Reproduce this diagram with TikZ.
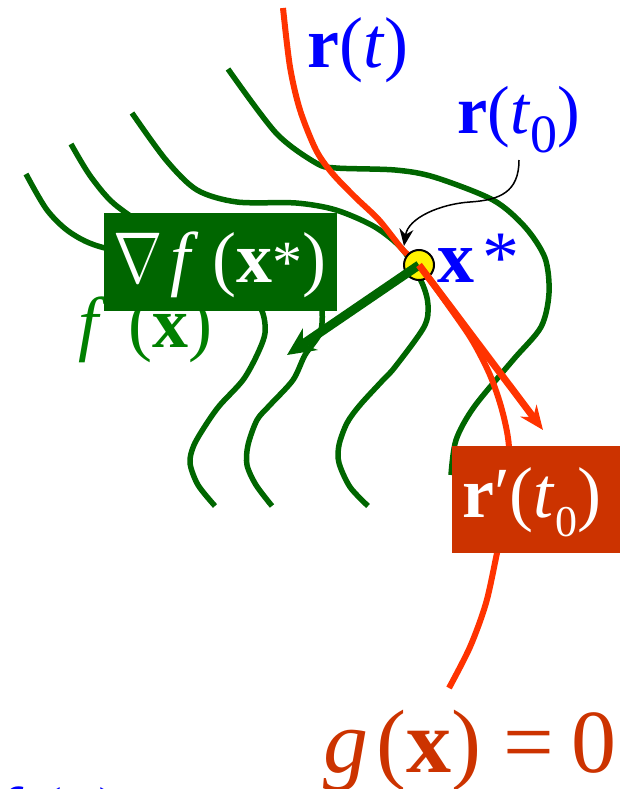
\documentclass[tikz,border=0pt]{standalone}
\usepackage{fontspec}
\setmainfont{Liberation Serif}
\usepackage{graphicx}
\usetikzlibrary{arrows.meta}
\definecolor{dkgreen}{RGB}{0,102,0}
\definecolor{lgreen}{RGB}{0,128,0}
\definecolor{redline}{RGB}{255,51,0}
\definecolor{boxred}{RGB}{204,51,0}
\definecolor{myblue}{RGB}{0,0,255}
\newcommand{\bignabla}{{\fontsize{10}{10}\selectfont\scalebox{5.9}[7.2]{$\nabla$}}}
\tikzset{
  levelset/.style={draw=dkgreen, line width=5.5pt},
  constraint/.style={draw=redline, line width=6pt},
  lbl/.style={inner sep=0pt, anchor=base west},
  fsz/.style={font=\fontsize{#1}{#1}\selectfont},
  labelbox/.style={inner sep=0pt, outer sep=0pt},
}
\begin{document}
\begin{tikzpicture}[x=1pt,y=-1pt]
\useasboundingbox (0,0) rectangle (619,789);

% level sets of f
\draw[levelset] plot[smooth] coordinates {(26,174) (47,210) (71,233) (105,248) (190,262) (245,285) (262,311) (265,333) (257,355) (243,380) (220,405) (207,423) (194,445) (190,463) (198,485) (215,506)};
\draw[levelset] plot[smooth] coordinates {(71,144) (91,177) (118,207) (170,236) (270,248) (316,285) (322,311) (320,333) (305,355) (293,380) (270,405) (257,420) (248,445) (247,465) (256,485) (272,506)};
\draw[levelset] plot[smooth] coordinates {(132,113) (166,160) (197,190) (237,202) (296,203) (336,210) (375,227) (403,250) (422,283) (428,305) (424,327) (395,367) (383,380) (360,405) (347,423) (339,445) (339,463) (350,487) (368,506)};
\draw[levelset] plot[smooth] coordinates {(228,69) (276,133) (316,163) (336,168) (395,170) (434,177) (493,200) (525,227) (545,258) (549,293) (541,327) (513,360) (474,407) (456,440) (451,475)};

% constraint curve r(t)
\draw[constraint] plot[smooth] coordinates {(283,8) (290,67) (300,110) (316,150) (332,173) (355,197) (379,220) (403,250) (419,265) (448,305) (472,340) (490,375) (502,410) (509,447) (508,500) (497,553) (486,603) (470,647) (449,688)};

% f(x) label
\node[lbl, fsz=72, text=lgreen] (fx) at (78,347) {\textit{f}\hspace{22pt}(\textbf{x})};

% gradient box
\node[labelbox, fill=dkgreen, minimum width=233pt, minimum height=98pt] (gradbox) at (220.5,262) {};
\node[lbl, fsz=72, text=white] (gradtxt) at (113,282) {\bignabla\hspace{8pt}\textit{f}\hspace{14pt}(\textbf{x}{\fontsize{60}{60}\selectfont *})};

% r'(t0) box
\node[labelbox, fill=boxred, minimum width=175pt, minimum height=107pt] (rpbox) at (539.5,499.5) {};
\node[lbl, fsz=72, text=white] (rptxt) at (462,517) {\textbf{r}′(\textit{t}\raisebox{-19pt}{\fontsize{44}{44}\selectfont 0})};

% point x*
\node[circle, draw=black, line width=2pt, fill=yellow, minimum size=30pt, inner sep=0pt] (xs) at (419,265) {};

% arrows
\coordinate (gtip) at (287,355);
\coordinate (rtip) at (543,430);
\draw[draw=dkgreen, line width=9pt, -{Stealth[length=28pt,width=26pt]}] (xs.center) -- (gtip);
\draw[draw=redline, line width=7pt, -{Stealth[length=24pt,width=20pt]}] (xs.center) -- (rtip);

% labels
\node[lbl, fsz=72, text=myblue] (rt) at (307,68) {\textbf{r}(\textit{t})};
\node[lbl, fsz=68, text=myblue] (rt0) at (457,133) {\textbf{r}(\textit{t}\raisebox{-19pt}{\fontsize{54}{54}\selectfont 0})};
\node[lbl, fsz=74, text=myblue] (xstar) at (437,282) {\textbf{x}\hspace{8pt}*};
\node[lbl, fsz=90, text=boxred] (gx) at (323,772) {\textit{g}\hspace{8pt}(\textbf{x})\hspace{22pt}=\hspace{18pt}0};
\node[lbl, fsz=72, text=myblue] (cut) at (-5,837) {\textit{f}\hspace{15pt}(\textbf{x})};

% pointer from r(t0) to x*
\coordinate (pstart) at (519,160);
\coordinate (ptip) at (404,246);
\draw[black, line width=1.5pt, -{Stealth[length=17pt,width=14pt]}] (pstart) .. controls (519,192) and (500,200) .. (470,202) .. controls (440,204) and (408,218) .. (ptip);
\end{tikzpicture}
\end{document}
